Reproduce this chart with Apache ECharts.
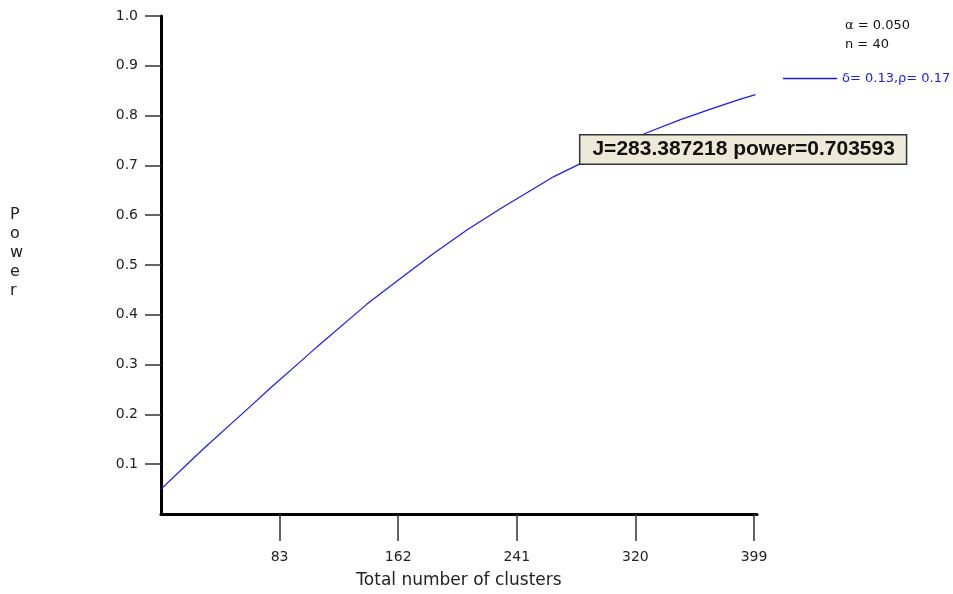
<!DOCTYPE html>
<html>
<head>
<meta charset="utf-8">
<script src="https://cdn.jsdelivr.net/npm/echarts@6/dist/echarts.min.js"></script>
<style>
html,body{margin:0;padding:0;background:#fff;}
#chart{width:953px;height:594px;}
</style>
</head>
<body>
<div id="chart"></div>
<script>
const clusterCounts = [4, 20, 33, 58, 78, 98, 108, 141, 163, 186, 208, 230, 266, 283.387218, 300, 328, 350, 372, 390, 400];
const powerValues   = [0.050, 0.096, 0.133, 0.201, 0.256, 0.309, 0.336, 0.421, 0.472, 0.524, 0.571, 0.613, 0.678, 0.703593, 0.728, 0.766, 0.792, 0.815, 0.833, 0.842];
const xTickValues = [83, 162, 241, 320, 399];
const yTickValues = [0.1, 0.2, 0.3, 0.4, 0.5, 0.6, 0.7, 0.8, 0.9, 1.0];
const seriesName = 'δ= 0.13,ρ= 0.17';
const alphaText = 'α = 0.050';
const nText = 'n = 40';
const highlightJ = 283.387218;
const highlightPower = 0.703593;
const xAxisTitle = 'Total number of clusters';
const yAxisTitle = 'Power';

const FONT = 'DejaVu Sans';
const chart = echarts.init(document.getElementById('chart'));
const option = {
  animation: false,
  backgroundColor: '#ffffff',
  grid: { left: 161, right: 196, top: 16, bottom: 79, containLabel: false },
  legend: {
    data: [seriesName],
    left: 783,
    top: 72,
    padding: 0,
    icon: 'rect',
    itemWidth: 54,
    itemHeight: 1.3,
    textStyle: { color: '#1a1aff', fontFamily: FONT, fontSize: 13 },
    selectedMode: false
  },
  xAxis: {
    type: 'value',
    min: 4,
    max: 401,
    name: xAxisTitle,
    nameLocation: 'middle',
    nameGap: 58,
    nameTextStyle: { fontFamily: FONT, fontSize: 17, color: '#222' },
    axisLine: { lineStyle: { color: '#000', width: 3 } },
    axisTick: { show: true, length: 27, customValues: xTickValues, lineStyle: { color: '#333', width: 1.5 } },
    axisLabel: { customValues: xTickValues, margin: 36, fontFamily: FONT, fontSize: 14, color: '#222' },
    splitLine: { show: false }
  },
  yAxis: {
    type: 'value',
    min: 0,
    max: 1,
    axisLine: { show: true, lineStyle: { color: '#000', width: 3 } },
    axisTick: { show: true, length: 16, customValues: yTickValues, lineStyle: { color: '#333', width: 1.5 } },
    axisLabel: { customValues: yTickValues, margin: 23, fontFamily: FONT, fontSize: 14, color: '#222',
      formatter: v => v.toFixed(1) },
    splitLine: { show: false }
  },
  graphic: [
    { type: 'text', left: 845, top: 19, style: { text: alphaText, font: '13px "DejaVu Sans"', fill: '#111' } },
    { type: 'text', left: 845, top: 38, style: { text: nText, font: '13px "DejaVu Sans"', fill: '#111' } },
    { type: 'text', left: 10, top: 205, style: { text: yAxisTitle.split('').join('\n'), font: '16px "DejaVu Sans"', fill: '#222', align: 'center', lineHeight: 19, width: 14 } }
  ],
  series: [{
    name: seriesName,
    type: 'line',
    data: clusterCounts.map((x, i) => [x, powerValues[i]]),
    showSymbol: false,
    smooth: false,
    lineStyle: { color: '#1a1aff', width: 1.2 },
    itemStyle: { color: '#1a1aff' },
    markPoint: {
      symbol: 'rect',
      symbolSize: 0,
      itemStyle: { color: 'rgba(0,0,0,0)' },
      data: [{ coord: [highlightJ, highlightPower], value: highlightPower }],
      label: {
        show: true,
        position: [0, 0],
        align: 'left',
        verticalAlign: 'bottom',
        formatter: 'J=' + highlightJ.toFixed(6) + ' power=' + highlightPower.toFixed(6),
        fontFamily: 'Liberation Sans',
        fontWeight: 'bold',
        fontSize: 21,
        lineHeight: 22,
        color: '#111',
        backgroundColor: '#ECE9D8',
        borderColor: '#333',
        borderWidth: 1.5,
        padding: [3, 11, 3, 12]
      }
    }
  }]
};
chart.setOption(option);
</script>
</body>
</html>
